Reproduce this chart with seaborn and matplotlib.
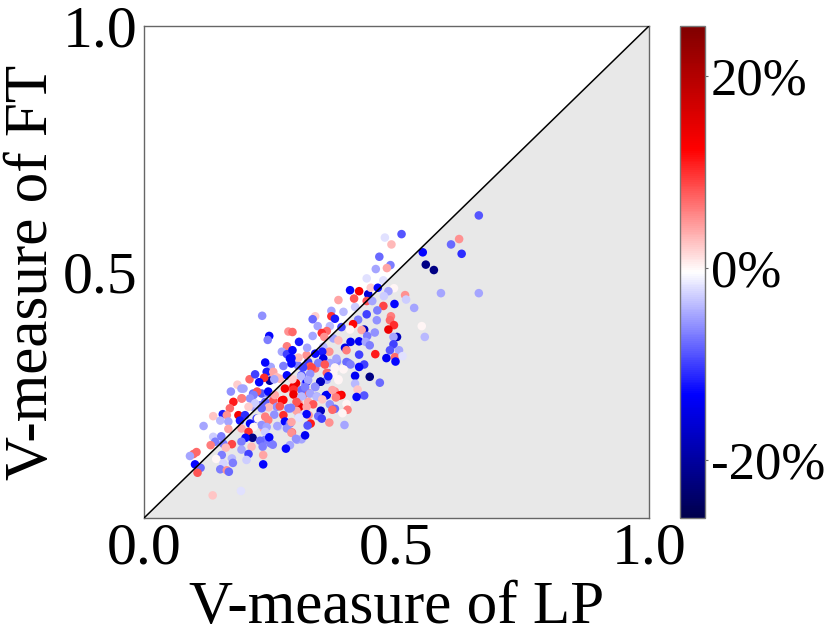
import matplotlib
matplotlib.use("Agg")
import matplotlib.pyplot as plt
import seaborn as sns

# values
lp_score = [
    .273, .256, .230, .216, .263, .289, .309, .315, .325, .306,
    .233, .246, .216, .193, .197, .269, .256, .289, .319, .312,
    .325, .305, .322, .296, .329, .339, .359, .382, .405, .365,
    .378, .395, .322, .349, .385, .339, .326, .362, .378, .391,
    .342, .312, .362, .243, .306, .326, .289, .266, .237, .240,
    .250, .293, .303, .312, .289,
    .248, .245, .286, .283, .273, .283, .289, .251, .240, .276,
    .243, .256, .263, .249, .258, .238, .228, .209, .185, .220,
    .193, .172, .224, .246, .283, .279, .296, .276, .259, .217,
    .210, .194, .177, .220, .240, .269, .247, .170, .207, .286,
    .233, .187, .156, .164, .137, .200, .223, .226, .276, .258,
    .240, .246, .151, .167, .190, .210, .279, .289, .233, .118,
    .264, .243, .167, .193, .217, .283, .207, .240, .137, .153,
    .215, .201, .248, .230, .193, .141, .132, .157, .174, .213,
    .162, .255, .235, .193, .281, .104, .098, .091, .207, .154,
    .236, .143, .174, .203, .101, .157, .176, .112, .236, .151,
    .164, .168, .106, .136, .192, .308, .234,
    .408, .426, .444, .517, .519, .385, .441, .496, .474, .418,
    .535, .371, .395, .462, .441, .489, .339, .334, .371, .378,
    .424, .461, .487, .414, .495, .344, .368, .391, .484, .436,
    .408, .431, .294, .362, .352, .457, .501, .494, .442, .334,
    .357, .375, .307, .409, .426, .385, .439, .447, .494, .323,
    .355, .398, .294, .367, .487, .505, .353, .339, .401, .426,
    .458, .306, .480, .497, .512, .355, .292, .381, .498, .345,
    .368, .401, .409, .436, .426, .358, .332, .378, .395, .315,
    .292, .362, .375, .329, .311, .418, .447, .385, .365, .301,
    .294, .350, .325, .467, .418, .339, .319, .423, .296, .373,
    .329, .296, .360, .387, .436, .421, .312, .342, .380, .353,
    .401, .302, .368, .335, .378, .322, .403, .373, .350, .393,
    .302, .291, .322, .345, .307, .352, .367, .330, .324, .397,
    .292, .319, .292, .301,
    .663, .510, .477, .490, .608, .624, .629, .552, .558, .574,
    .466, .488, .481, .459, .441, .474, .449, .463, .495, .484,
    .475, .416, .452, .588, .663, .550, .556,
]
ft_score = [
    .239, .239, .229, .226, .226, .222, .209, .249, .236, .233,
    .253, .253, .253, .243, .263, .283, .290, .263, .273, .290,
    .317, .310, .331, .324, .308, .304, .313, .318, .315, .294,
    .304, .304, .277, .277, .282, .267, .254, .250, .257, .250,
    .247, .260, .281, .226, .209, .209, .193, .186, .182, .159,
    .152, .174, .159, .160, .148,
    .370, .362, .379, .349, .338, .333, .324, .307, .316, .309,
    .297, .297, .286, .279, .282, .285, .276, .282, .271, .292,
    .263, .257, .257, .257, .290, .263, .267, .240, .250, .250,
    .243, .243, .236, .233, .236, .227, .225, .223, .226, .223,
    .223, .209, .211, .209, .207, .209, .202, .202, .209, .210,
    .206, .199, .198, .196, .198, .192, .196, .192, .189, .187,
    .187, .185, .181, .182, .185, .182, .175, .175, .165, .166,
    .163, .163, .164, .157, .155, .155, .148, .151, .150, .145,
    .143, .149, .145, .139, .141, .134, .130, .126, .130, .128,
    .128, .120, .121, .118, .109, .111, .112, .102, .109, .099,
    .097, .094, .092, .046, .055, .226, .411,
    .463, .461, .455, .453, .444, .443, .441, .435, .431, .429,
    .427, .421, .419, .422, .414, .410, .410, .404, .410, .405,
    .403, .402, .402, .394, .392, .390, .390, .388, .383, .383,
    .383, .382, .378, .380, .376, .377, .368, .368, .370, .370,
    .368, .365, .358, .358, .359, .361, .358, .351, .353, .346,
    .348, .346, .341, .338, .341, .341, .338, .334, .341, .332,
    .333, .326, .325, .327, .329, .324, .325, .324, .318, .315,
    .315, .317, .312, .312, .307, .312, .306, .306, .302, .306,
    .314, .295, .293, .293, .288, .289, .287, .280, .288, .274,
    .282, .277, .280, .275, .273, .266, .266, .261, .261, .260,
    .253, .251, .249, .249, .249, .246, .247, .246, .245, .241,
    .232, .236, .231, .231, .222, .226, .220, .220, .218, .213,
    .218, .224, .211, .207, .204, .202, .194, .192, .188, .189,
    .195, .168, .173, .161,
    .615, .577, .570, .556, .556, .567, .537, .540, .515, .504,
    .531, .514, .508, .506, .487, .483, .468, .468, .467, .461,
    .451, .446, .441, .457, .457, .390, .368,
]
gain = [
    .12, .08, -.07, -.05, -.06, -.05, -.03, -.05, .04, .05,
    -.09, -.06, -.08, .06, -.05, .03, .04, .03, -.05, -.10,
    -.10, -.07, .05, -.05, .08, .07, .10, -.06, -.07, -.10,
    0, 0, -.13, -.20, 0, -.06, .07, -.14, .05, .13,
    -.05, -.08, -.05, -.03, -.03, .05, -.08, -.03, .04, -.07,
    -.07, .07, -.05, -.05, -.05,
    -.13, -.07, .05, .06, -.05, -.10, -.13, -.05, -.13, -.07,
    -.12, .04, .03, -.20, -.05, .10, -.13, .07, .02, -.10,
    -.05, -.06, .08, -.13, -.13, .13, .13, .12, .04, -.07,
    -.06, .06, .11, -.03, -.08, .08, .03, .07, .02, -.07,
    -.08, .13, -.12, .05, .025, -.11, -.10, 0, .10, -.06,
    .06, .06, -.04, -.05, -.12, -.13, -.13, -.07, -.06, -.05,
    -.05, -.05, .04, .04, 0, -.06, .10, -.03, -.03, -.07,
    -.22, -.13, -.13, -.08, -.07, -.07, .06, -.07, .09, .03,
    .03, -.07, -.07, -.05, -.13, .07, .07, -.05, -.10, -.07,
    .04, 0, -.04, -.03, -.13, -.025, -.07, -.08, -.13, -.07,
    .05, -.08, .08, .025, -.02, .14, -.06,
    -.13, .13, -.16, .05, -.03, .04, .08, -.13, .09, -.03,
    -.05, -.05, -.04, -.07, -.10, .06, .02, -.08, .10, -.12,
    -.07, -.06, .07, .12, .10, -.05, -.04, -.10, .14, -.18,
    0, .04, .07, .07, .10, -.06, -.18, -.05, -.07, -.05,
    .05, -.05, -.12, -.14, -.14, .03, -.05, -.07, -.10, -.05,
    -.04, -.15, -.13, .05, -.09, -.05, -.12, -.13, .06, -.10,
    .11, .03, -.14, .07, -.02, -.15, -.13, -.05, -.13, -.07,
    -.05, -.08, -.07, -.10, -.13, .08, .09, 0, 0, -.10,
    -.13, .07, 0, -.06, -.04, -.14, -.22, 0, -.12, .14,
    .02, -.18, -.05, -.08, -.04, -.06, -.07, .025, .10, .04,
    -.05, .14, -.14, .12, -.09, -.13, -.04, -.04, .06, .025,
    0, .08, -.06, .08, -.08, .04, .06, .07, -.18, 0,
    .04, -.07, -.13, -.08, -.02, -.10, .05, .11, -.09, -.05,
    .04, -.14, .05, -.06,
    -.09, -.09, -.02, .03, -.08, .05, -.11, -.13, -.22, -.22,
    -.08, -.07, .04, -.05, -.02, -.02, .02, -.13, 0, -.05,
    -.03, .08, -.05, -.05, -.05, 0, -.04,
]
axis_ticks = [0.0, 0.5, 1.0]
bar_ticks = [-0.2, 0.0, 0.2]
bar_labels = ["-20%", "0%", "20%"]

sns.set_style("white")
plt.rcParams["font.family"] = ["Liberation Serif", "DejaVu Serif"]
plt.rcParams["text.color"] = "black"
plt.rcParams["axes.labelcolor"] = "black"
plt.rcParams["xtick.labelcolor"] = "black"
plt.rcParams["ytick.labelcolor"] = "black"

fig = plt.figure(figsize=(8.3, 6.42), dpi=100)
ax = fig.add_axes([144 / 830, 1 - 518 / 642, 505 / 830, 492 / 642])
cax = fig.add_axes([680 / 830, 1 - 518 / 642, 25 / 830, 492 / 642])

# shaded half under the diagonal
ax.fill_between([0, 1], [0, 0], [0, 1], color="#e8e8e8", linewidth=0, zorder=0)

norm = plt.Normalize(-0.26, 0.252)
sns.scatterplot(x=lp_score, y=ft_score, hue=gain, hue_norm=norm, palette="seismic",
                s=38, linewidth=0, legend=False, ax=ax, zorder=2)
ax.plot([0, 1], [0, 1], color="black", linewidth=1.1, zorder=3)

ax.set_xlim(0, 1)
ax.set_ylim(0, 1)
ax.set_xticks(axis_ticks)
ax.set_yticks(axis_ticks)
ax.set_xticklabels(["0.0", "0.5", "1.0"])
ax.set_yticklabels(["", "0.5", "1.0"])
ax.tick_params(labelsize=43, length=3, width=0.8, color="#666666")
ax.tick_params(axis="x", pad=0)
ax.tick_params(axis="y", pad=2)
ax.set_xlabel("V-measure of LP", fontsize=44, labelpad=3)
ax.set_ylabel("V-measure of FT", fontsize=44, labelpad=2)
for side in ax.spines.values():
    side.set_color("#666666")
    side.set_linewidth(1)

sm = plt.cm.ScalarMappable(norm=norm, cmap="seismic")
cbar = fig.colorbar(sm, cax=cax)
cbar.set_ticks(bar_ticks)
cbar.set_ticklabels(bar_labels)
cbar.ax.tick_params(labelsize=38, length=2, width=0.8, color="#666666", pad=2)
cbar.outline.set_edgecolor("#777777")
cbar.outline.set_linewidth(1)

fig.savefig("out.png", dpi=100)
